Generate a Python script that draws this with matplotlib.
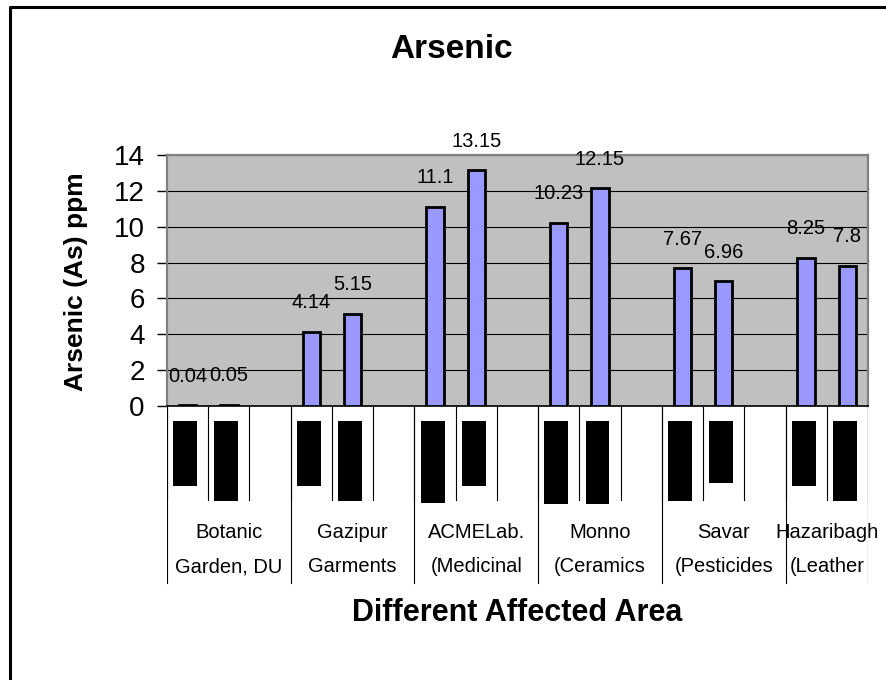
import numpy as np
import matplotlib
matplotlib.use("Agg")
import matplotlib.pyplot as plt
from matplotlib.lines import Line2D

plt.rcParams['font.family'] = ['Liberation Sans', 'DejaVu Sans']

# sampling sites (two text rows per site)
area_top = ["Botanic", "Gazipur", "ACMELab.", "Monno", "Savar", "Hazaribagh"]
area_bottom = ["Garden, DU", "Garments", "(Medicinal", "(Ceramics", "(Pesticides", "(Leather"]

# arsenic content, ppm (two samples per site)
arsenic_1 = [0.04, 4.14, 11.1, 10.23, 7.67, 8.25]
arsenic_2 = [0.05, 5.15, 13.15, 12.15, 6.96, 7.8]

# length of the black sample-label blocks under each bar
block_1 = [65, 65, 82, 83, 80, 65]
block_2 = [80, 80, 65, 83, 62, 80]

W, H = 887, 680
fig = plt.figure(figsize=(W / 100, H / 100), dpi=100)


def fx(x):
    return x / W


def fy(y):
    return 1 - y / H


n_slots = 3 * len(area_top) - 1
x1 = np.arange(len(area_top)) * 3
x2 = x1 + 1

# main plot area
ax = fig.add_axes([fx(167), fy(406), fx(868) - fx(167), fy(155) - fy(406)])
ax.set_facecolor('#C0C0C0')
ax.bar(x1, arsenic_1, width=0.42, color='#9999FF', edgecolor='black', linewidth=2, zorder=3)
ax.bar(x2, arsenic_2, width=0.42, color='#9999FF', edgecolor='black', linewidth=2, zorder=3)
for xs, vals in [(x1, arsenic_1), (x2, arsenic_2)]:
    for x, v in zip(xs, vals):
        ax.annotate(f"{v:g}", (x, v), xytext=(0, 21), textcoords='offset points',
                    ha='center', va='center', fontsize=14.5, zorder=4)

ax.set_xlim(-0.5, n_slots - 0.5)
ax.set_ylim(0, 14)
ax.set_yticks(range(0, 15, 2))
ax.set_xticks([])
ax.yaxis.grid(True, color='black', linewidth=0.8)
ax.set_axisbelow(True)
ax.tick_params(axis='y', direction='out', length=7, width=1, pad=9, labelsize=20)
for s in ['top', 'right', 'left']:
    ax.spines[s].set_color('#808080')
    ax.spines[s].set_linewidth(1.6)
ax.spines['bottom'].set_color('black')
ax.spines['bottom'].set_linewidth(1.2)

# category table below the axis
tab = fig.add_axes([fx(167), fy(590), fx(868) - fx(167), fy(406) - fy(590)])
tab.set_xlim(-0.5, n_slots - 0.5)
tab.set_ylim(590, 406)
tab.axis('off')
for b in np.arange(n_slots + 1) - 0.5:
    tab.plot([b, b], [406, 500], color='black', linewidth=0.8)
bounds = list(x1 - 0.5) + [n_slots - 0.5]
for b in bounds:
    tab.plot([b, b], [406, 583], color='black', linewidth=0.8)

tab.bar(x1 - 0.06, block_1, bottom=421, width=0.58, color='black')
tab.bar(x2 - 0.06, block_2, bottom=421, width=0.58, color='black')

for i in range(len(area_top)):
    c = (bounds[i] + bounds[i + 1]) / 2
    tab.text(c, 533, area_top[i], ha='center', va='center', fontsize=14.5)
    tab.text(c, 567, area_bottom[i], ha='center', va='center', fontsize=14.5)

# titles
fig.text(fx(451), fy(50), "Arsenic", ha='center', va='center', fontsize=24, fontweight='bold')
fig.text(fx(76), fy(282), "Arsenic (As) ppm", ha='center', va='center', rotation=90,
         fontsize=19, fontweight='bold')
fig.text(fx(517), fy(613), "Different Affected Area", ha='center', va='center',
         fontsize=22, fontweight='bold')

# outer chart frame
fig.add_artist(Line2D([fx(10), fx(10), fx(W + 10)], [fy(H + 10), fy(7), fy(7)],
                      transform=fig.transFigure, color='black', linewidth=2.2))

fig.savefig("out.png", dpi=100)
